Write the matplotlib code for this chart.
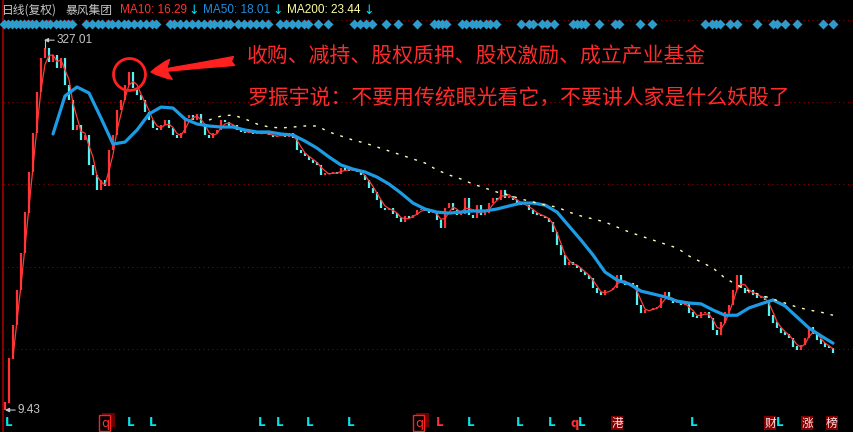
import numpy as np
import pandas as pd
import matplotlib
matplotlib.use('Agg')
import matplotlib.pyplot as plt
import matplotlib.transforms as mtransforms
from matplotlib.patches import Rectangle

plt.rcParams['font.family'] = ['Noto Sans CJK SC', 'DejaVu Sans']

# 暴风集团 日线(复权) 收盘价, 每 4 个交易日取一个点
step = 4
close = [
    10.1, 15.5, 21.3, 29.8, 42.5, 62.9, 92.4, 134.3, 199.0, 275.6,
    303.3, 265.3, 283.7, 250.4, 275.6, 212.8, 184.2, 138.2, 145.0, 125.5,
    131.7, 98.8, 89.8, 77.7, 85.6, 81.5, 114.1, 131.7, 167.4, 184.2,
    212.8, 240.9, 206.7, 193.3, 184.2, 164.2, 152.1, 140.9, 138.2, 145.0,
    152.1, 140.9, 131.7, 128.0, 134.3, 155.0, 159.6, 152.1, 161.1, 145.0,
    131.7, 128.0, 134.3, 138.2, 152.1, 149.2, 142.2, 145.0, 138.2, 135.6,
    134.3, 136.9, 133.0, 134.3, 133.0, 134.3, 131.7, 129.2, 130.5, 133.0,
    129.2, 134.3, 128.0, 114.1, 110.9, 107.7, 103.6, 101.6, 98.8, 89.8,
    91.5, 90.6, 92.4, 90.6, 96.0, 94.2, 93.3, 95.0, 92.4, 89.8,
    85.6, 79.2, 76.2, 70.6, 65.4, 64.2, 65.4, 62.3, 59.4, 57.2,
    60.6, 59.4, 61.2, 64.2, 64.8, 63.6, 62.9, 63.6, 58.3, 54.0,
    65.4, 68.6, 64.2, 61.2, 62.3, 72.0, 61.2, 59.4, 67.3, 61.2,
    62.9, 68.6, 72.0, 70.6, 77.7, 72.0, 73.4, 70.6, 68.6, 67.3,
    67.3, 64.2, 62.3, 61.2, 60.6, 59.4, 57.2, 52.0, 45.9, 41.7,
    37.9, 39.0, 37.9, 36.8, 35.4, 34.4, 33.4, 30.4, 29.0, 28.4,
    29.8, 29.8, 30.4, 34.4, 31.9, 31.3, 31.6, 31.0, 25.8, 24.1,
    24.6, 24.6, 25.1, 25.3, 27.6, 29.0, 27.1, 26.3, 26.6, 25.8,
    26.1, 24.1, 23.2, 22.8, 24.1, 24.1, 22.8, 20.3, 19.4, 21.9,
    24.1, 25.8, 29.8, 34.4, 30.4, 29.2, 29.8, 28.4, 27.6, 28.1,
    27.1, 23.4, 21.9, 20.7, 19.9, 19.4, 18.8, 17.4, 16.8, 17.6,
    18.8, 20.9, 19.7, 18.5, 17.9, 17.4, 17.1, 16.4,
]

# 均线 (每 12 个交易日读一个点)
ma_step = 12
ma50_first = 48
ma50 = [
    133.0, 191.5, 208.7, 197.0, 155.0, 120.8, 123.1, 138.2, 161.1, 172.2,
    170.6, 153.6, 146.4, 143.6, 142.2, 142.2, 138.2, 135.6, 135.6, 133.0,
    131.7, 124.3, 116.2, 106.7, 98.8, 95.0, 92.4, 88.0, 82.3, 75.5,
    68.6, 64.8, 62.9, 62.3, 62.9, 63.6, 63.6, 64.8, 66.7, 68.6,
    68.6, 67.3, 62.9, 55.0, 48.1, 41.7, 35.4, 32.8, 31.6, 29.5,
    28.7, 27.9, 26.8, 26.3, 26.1, 24.6, 23.4, 23.4, 25.1, 26.1,
    27.1, 25.6, 23.0, 20.7, 19.2, 17.9,
]
ma200_first = 204
ma200 = [
    152.1, 158.0, 159.6, 153.6, 146.4, 142.2, 140.9, 142.2, 143.6, 143.6,
    135.6, 130.5, 125.5, 121.9, 117.4, 113.0, 108.8, 104.7, 100.7, 94.2,
    89.8, 86.4, 82.3, 79.2, 76.2, 74.1, 71.3, 69.3, 67.3, 66.0,
    62.9, 60.6, 58.9, 57.2, 54.5, 52.0, 50.0, 48.1, 46.3, 44.6,
    41.3, 39.0, 36.8, 33.4, 31.3, 29.5, 28.4, 27.3, 26.3, 25.3,
    24.6, 24.1, 23.4,
]

ipo_low = 9.43
top_high = 327.01
top_day = 40
grid_levels = [16.9, 37.2, 82.3, 180.7, 396.0]

# 信息地雷 (交易日序号)
event_days = [
    -1, 3, 7, 11, 15, 19, 23, 27, 31, 37, 41, 45, 51, 55, 59, 63, 67,
    81, 87, 93, 97, 103, 107, 113, 119, 123, 129, 135, 141, 147, 151,
    165, 169, 175, 181, 187, 193, 199, 205, 209, 215, 221, 225,
    233, 239, 245, 251, 257, 263,
    275, 281, 287, 293, 299, 303,
    313, 323, 349, 355, 361, 367, 381, 393,
    412, 429, 433, 437, 441, 457, 461, 467, 471, 475, 481, 485, 491,
    516, 524, 528, 537, 542, 549, 568, 572, 576, 580, 594, 610, 614, 635, 647,
    700, 707, 711, 715, 725, 732, 752, 768, 772, 780, 792, 818, 828,
]

# 底部标记
mark_days = [4, 100, 126, 148, 257, 275, 305, 346, 414, 435, 466, 515, 547,
             570, 577, 612, 689, 765, 775, 802, 827]
mark_text = ['L', 'q', 'L', 'L', 'L', 'L', 'L', 'L', 'q', 'L', 'L', 'L', 'L',
             'q', 'L', '港', 'L', '财', 'L', '涨', '榜']
mark_kind = ['c', 'q', 'c', 'c', 'c', 'c', 'c', 'c', 'q', 'r', 'c', 'c', 'c',
             'r', 'c', 'box', 'c', 'box', 'c', 'box', 'box']

W, H = 854, 432
fig = plt.figure(figsize=(W / 100, H / 100), dpi=100, facecolor='black')
ax = fig.add_axes([0, 0, 1, 1])
ax.set_yscale('log')
ax.set_xlim(-5, 849)
ax.set_ylim(7.64, 480.6)
ax.axis('off')

red = '#ff3333'
cyan = '#55f2f2'

# 网格
ax.hlines(grid_levels, -2, 849, colors='#8a0000', lw=0.8, linestyles=(0, (1, 3)))
ax.axvline(-2, color='#a00000', lw=1.2)

# K线
c = np.array(close)
o = np.r_[ipo_low, c[:-1]]
d = np.arange(len(c)) * step
up = c >= o
hi = np.maximum(o, c) * 1.004
lo = np.minimum(o, c) / 1.004
ax.vlines(d[up], lo[up], hi[up], color=red, lw=1.6)
ax.vlines(d[~up], lo[~up], hi[~up], color=cyan, lw=1.6)
ax.vlines(top_day, c[top_day // step], top_high, color=cyan, lw=0.8)

# 均线
ma10 = pd.Series(close).rolling(3).mean()
ax.plot(d, ma10, color='#ff3a3a', lw=0.9)
ax.plot(ma50_first + np.arange(len(ma50)) * ma_step, ma50, color='#1c9ce4', lw=2.3,
        solid_capstyle='round')
ax.plot(ma200_first + np.arange(len(ma200)) * ma_step, ma200, color='#ffffb8', lw=1.0,
        ls=(0, (2, 5)))

# 最高/最低价标注
ax.annotate('327.01', xy=(top_day - 1, top_high), xytext=(13, 0), textcoords='offset pixels',
            va='center', ha='left', color='#c8c8c8', fontsize=8.5, family='Liberation Sans',
            arrowprops=dict(arrowstyle='-|>', color='#c8c8c8', lw=0.8, shrinkA=0, shrinkB=0,
                            mutation_scale=6, relpos=(0, 0.5)))
ax.annotate('9.43', xy=(0, ipo_low), xytext=(13, 0), textcoords='offset pixels',
            va='center', ha='left', color='#c8c8c8', fontsize=8.5, family='Liberation Sans',
            arrowprops=dict(arrowstyle='-|>', color='#c8c8c8', lw=0.8, shrinkA=0, shrinkB=0,
                            mutation_scale=6, relpos=(0, 0.5)))

# 信息地雷
trans = mtransforms.blended_transform_factory(ax.transData, ax.transAxes)
ax.plot(event_days, [1 - 24 / H] * len(event_days), 'D', ms=5.5, color='#2e9bcb',
        mec='none', transform=trans, clip_on=False)

# 底部标记
yb = 1 - 423 / H
for dd, t, k in zip(mark_days, mark_text, mark_kind):
    if k == 'c':
        ax.text(dd, yb, t, color='#00e6f0', fontsize=8.5, fontweight='bold', ha='center',
                va='center', transform=trans, family='DejaVu Sans')
    elif k == 'r':
        ax.text(dd, yb, t, color='#ff3030', fontsize=8.5, fontweight='bold', ha='center',
                va='center', transform=trans, family='DejaVu Sans')
    elif k == 'q':
        ax.add_patch(Rectangle((dd - 3, 1 - 427 / H), 13, 14 / H, transform=trans,
                               fc='#6a0000', ec='none', zorder=1))
        ax.text(dd, yb, t, color='#ff3030', fontsize=9, ha='center', va='center',
                transform=trans, family='DejaVu Sans', zorder=3,
                bbox=dict(boxstyle='square,pad=0.12', fc='black', ec='#ff2020', lw=1))
    else:
        ax.text(dd, yb, t, color='#ffe0e0', fontsize=8.5, ha='center', va='center',
                transform=trans, bbox=dict(boxstyle='square,pad=0.05', fc='#800000', ec='none'))

# 标题栏
ty = 1 - 10 / H
fig.text(2 / W, ty, '日线(复权)', color='#c8c8c8', fontsize=8.5, va='center')
fig.text(66 / W, ty, '暴风集团', color='#c8c8c8', fontsize=8.5, va='center')
fig.text(120 / W, ty, 'MA10: 16.29', color='#ff3333', fontsize=8.5, va='center',
         family='Liberation Sans')
fig.text(188 / W, ty, '↓', color='#00e0ff', fontsize=9, va='center', family='DejaVu Sans')
fig.text(203 / W, ty, 'MA50: 18.01', color='#1e8fe0', fontsize=8.5, va='center',
         family='Liberation Sans')
fig.text(272 / W, ty, '↓', color='#00e0ff', fontsize=9, va='center', family='DejaVu Sans')
fig.text(287 / W, ty, 'MA200: 23.44', color='#ffffa0', fontsize=8.5, va='center',
         family='Liberation Sans')
fig.text(363 / W, ty, '↓', color='#00e0ff', fontsize=9, va='center', family='DejaVu Sans')

# 红色批注
fig.text(247 / W, 1 - 57 / H, '收购、减持、股权质押、股权激励、成立产业基金',
         color='#ff2a2a', fontsize=15, va='center')
fig.text(247 / W, 1 - 98 / H, '罗振宇说：不要用传统眼光看它，不要讲人家是什么妖股了',
         color='#ff2a2a', fontsize=15, va='center')
ax.plot(124, 236.4, 'o', ms=23, mfc='none', mec='#ff2020', mew=2)
ax.annotate('', xy=(151, H - 72), xycoords='figure pixels', xytext=(234, H - 61),
            textcoords='figure pixels',
            arrowprops=dict(arrowstyle='fancy,head_length=0.9,head_width=0.9,tail_width=0.4',
                            color='#ff2020', mutation_scale=16, shrinkA=0, shrinkB=0))

fig.savefig('out.png', dpi=100, facecolor='black')
